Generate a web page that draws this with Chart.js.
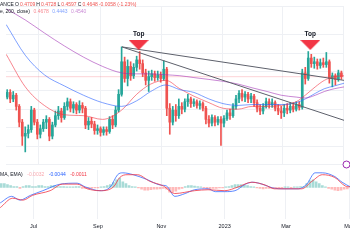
<!DOCTYPE html>
<html lang="en">
<head>
<meta charset="UTF-8">
<title>XRPUSDT daily</title>
<script src="https://cdn.jsdelivr.net/npm/chart.js@4.4.1/dist/chart.umd.min.js"></script>
<style>
    body { margin: 0; background: #ffffff; }
    #wrap { position: relative; width: 350px; height: 250px; overflow: hidden; }
    canvas { position: absolute; left: 0; }
    #priceChart { top: 0; }
    #macdChart { top: 170px; }
</style>
</head>
<body>
<div id="wrap">
    <canvas id="priceChart" width="350" height="170"></canvas>
    <canvas id="macdChart" width="350" height="80"></canvas>
</div>
<script>
// days counted from 1 Jul 2022, one candle every 3 days
const firstCandleDay = -31;
const candleStep = 3;

const opens = [
    .399, .414, .393, .405, .369, .318, .273, .282, .294, .357,
    .318, .279, .297, .318, .327, .273, .309, .339, .354, .333,
    .369, .384, .363, .375, .357, .372, .363, .309, .321, .312,
    .291, .297, .285, .294, .288, .327, .309, .357, .408, .513,
    .459, .498, .468, .495, .519, .507, .477, .453, .465, .474,
    .462, .471, .459, .489, .363, .318, .357, .339, .369, .360,
    .384, .393, .378, .384, .372, .378, .363, .327, .315, .333,
    .318, .327, .315, .330, .348, .339, .369, .393, .411, .399,
    .408, .393, .402, .381, .363, .354, .369, .384, .375, .381,
    .363, .354, .348, .363, .357, .369, .360, .375, .366, .477,
    .459, .525, .507, .513, .501, .510, .504, .513, .459, .468,
    .456, .477
];
const highs = [
    .423, .423, .417, .411, .375, .327, .303, .309, .369, .363,
    .327, .309, .327, .339, .333, .318, .354, .369, .363, .381,
    .396, .393, .384, .381, .387, .381, .369, .333, .333, .321,
    .309, .303, .303, .303, .336, .339, .369, .423, .561, .528,
    .519, .513, .507, .531, .546, .519, .489, .483, .486, .483,
    .483, .480, .516, .495, .378, .369, .375, .393, .381, .393,
    .408, .399, .393, .390, .387, .384, .369, .339, .342, .339,
    .336, .336, .339, .357, .360, .378, .405, .420, .423, .417,
    .414, .411, .408, .390, .375, .378, .396, .393, .393, .387,
    .375, .369, .375, .378, .381, .381, .384, .384, .489, .495,
    .546, .537, .528, .522, .522, .525, .543, .519, .477, .474,
    .486, .483
];
const lows = [
    .393, .381, .384, .357, .303, .243, .222, .267, .285, .309,
    .264, .267, .288, .297, .258, .264, .303, .327, .318, .327,
    .357, .351, .348, .345, .348, .348, .297, .294, .300, .279,
    .279, .273, .276, .276, .282, .297, .303, .351, .402, .447,
    .435, .453, .459, .483, .489, .465, .438, .417, .453, .450,
    .453, .447, .453, .339, .279, .309, .321, .330, .345, .351,
    .369, .366, .369, .363, .360, .354, .312, .303, .306, .306,
    .309, .243, .303, .324, .327, .333, .360, .381, .387, .384,
    .381, .381, .369, .351, .342, .345, .363, .363, .366, .354,
    .342, .330, .336, .345, .348, .351, .354, .357, .360, .441,
    .453, .495, .492, .489, .492, .495, .495, .444, .432, .438,
    .450, .456
];
const closes = [
    .414, .393, .405, .369, .318, .273, .282, .294, .357, .318,
    .279, .297, .318, .327, .273, .309, .339, .354, .333, .369,
    .384, .363, .375, .357, .372, .363, .309, .321, .312, .291,
    .297, .285, .294, .288, .327, .309, .357, .408, .513, .459,
    .498, .468, .495, .519, .507, .477, .453, .465, .474, .462,
    .471, .459, .489, .363, .318, .357, .339, .369, .360, .384,
    .393, .378, .384, .372, .378, .363, .327, .315, .333, .318,
    .327, .315, .330, .348, .339, .369, .393, .411, .399, .408,
    .393, .402, .381, .363, .354, .369, .384, .375, .381, .363,
    .354, .348, .363, .357, .369, .360, .375, .366, .477, .459,
    .525, .507, .513, .501, .510, .504, .513, .459, .468, .456,
    .477, .4648
];

// moving averages, read at a few points
const maDays    = [-32, -13, 6, 26, 45, 64, 83, 98, 112, 127, 141, 155, 170, 184, 199, 213, 228, 242, 257, 266, 276, 285, 295, 305];
const maFast    = [.537, .432, .372, .342, .339, .327, .357, .408, .441, .453, .426, .402, .381, .363, .360, .369, .369, .372, .384, .405, .432, .453, .465, .468];
const maMid     = [.633, .534, .471, .435, .405, .381, .369, .387, .417, .438, .423, .414, .393, .378, .372, .375, .375, .375, .381, .393, .411, .426, .435, .444];
const maSlow    = [.684, .648, .606, .564, .528, .498, .477, .474, .474, .471, .468, .462, .456, .450, .441, .429, .417, .405, .399, .396, .405, .417, .426, .432];

// trendlines from the September top
const trendDays = [83.3, 304.6];
const trendUpper = [.561, .453];
const trendLower = [.561, .324];

const lastPrice = 0.4648;
const topDays = [100, 271];
const topPrices = [.567, .567];

// MACD pane
const macdDays   = [-32, -21, -13, -3, 9, 26, 42, 50, 64, 74, 81, 86, 96, 109, 122, 128, 136, 146, 155, 168, 175, 184, 194, 204, 211, 220, 230, 242, 255, 263, 271, 278, 290, 297, 305];
const macdLine   = [-.033, -.019, -.027, -.017, -.007, .007, .009, .001, -.007, .001, .027, .031, .027, .017, .005, .003, -.019, -.013, -.005, -.003, -.009, -.009, -.007, .007, .011, .007, -.001, -.003, -.003, .007, .031, .031, .023, .011, .001];
const signalDays = [-32, -20, -10, -1, 16, 28, 42, 52, 64, 77, 83, 90, 100, 112, 125, 136, 155, 168, 184, 197, 210, 223, 232, 258, 268, 278, 290, 300, 305];
const signalLine = [-.043, -.023, -.027, -.017, -.007, .007, .007, -.003, -.007, .001, .021, .027, .027, .013, .003, -.013, -.007, -.005, -.007, .001, .011, .005, -.003, -.003, .013, .027, .021, .003, .001];
const histogram = [
    .008, .008, .006, .004, .002, .002, -.002, .002, .004, .004,
    .002, .002, .004, .004, .002, .002, .004, .004, .002, .002,
    .002, .001, .001, .001, .002, .002, -.002, -.002, -.003, -.002,
    -.001, -.001, .001, .002, .004, .006, .010, .016, .020, .012,
    .008, .004, .002, .001, -.001, -.004, -.006, -.006, -.005, -.004,
    -.004, -.003, -.002, -.004, -.010, -.010, -.008, -.004, -.002, .002,
    .004, .004, .003, .002, .001, -.001, -.002, -.003, -.002, -.002,
    -.001, -.001, .001, .002, .004, .006, .006, .006, .005, .004,
    .002, .001, -.001, -.002, -.003, -.002, -.002, -.001, -.001, -.001,
    -.001, .001, .001, -.001, .001, .001, .002, .002, .008, .014,
    .016, .012, .008, .004, .001, -.002, -.004, -.006, -.007, -.006,
    -.004, -.003
];

const tickDays   = [0, 62, 123, 184, 243, 304];
const tickLabels = ['Jul', 'Sep', 'Nov', '2023', 'Mar', 'May'];

const xMin = -32.2;
const xMax = 304.6;

const upColor = '#26a69a';
const downColor = '#ef5350';
const gridColor = '#eef0f4';
const textColor = '#131722';
const fastColor = 'rgba(242, 54, 69, 0.6)';
const midColor = 'rgba(41, 98, 255, 0.6)';
const slowColor = 'rgba(156, 39, 176, 0.55)';
const fontFamily = '"Liberation Sans", Arial, sans-serif';

const candleDays = closes.map((c, i) => firstCandleDay + i * candleStep);
const candleColors = closes.map((c, i) => c >= opens[i] ? upColor : downColor);

function points(days, values) {
    return days.map((d, i) => ({ x: d, y: values[i] }));
}

function timeAxis(showLabels) {
    return {
        type: 'linear',
        min: xMin,
        max: xMax,
        offset: false,
        afterBuildTicks: axis => { axis.ticks = tickDays.map(v => ({ value: v })); },
        afterFit: axis => { axis.paddingLeft = 0; axis.paddingRight = 0; },
        grid: { color: gridColor, drawTicks: false, offset: false },
        border: { display: false },
        ticks: {
            display: showLabels,
            autoSkip: false,
            maxRotation: 0,
            padding: 4,
            color: textColor,
            font: { family: fontFamily, size: 5.5 },
            callback: (v, i) => tickLabels[i]
        }
    };
}

function drawRow(ctx, row, x, y, gap) {
    row.forEach(([text, color]) => {
        ctx.fillStyle = color;
        ctx.fillText(text, x, y);
        x += ctx.measureText(text).width + gap;
    });
}

// flat red arrow used for the "Top" marks
const topArrow = document.createElement('canvas');
topArrow.width = 20;
topArrow.height = 10;
const arrowCtx = topArrow.getContext('2d');
arrowCtx.fillStyle = '#f23645';
arrowCtx.beginPath();
arrowCtx.moveTo(0, 0);
arrowCtx.lineTo(20, 0);
arrowCtx.lineTo(10, 10);
arrowCtx.closePath();
arrowCtx.fill();

const priceLegend = {
    id: 'priceLegend',
    afterDraw(chart) {
        const ctx = chart.ctx;
        ctx.save();
        ctx.textBaseline = 'middle';
        ctx.textAlign = 'left';
        ctx.font = '5px ' + fontFamily;
        drawRow(ctx, [
            ['ANCE', textColor], ['O', textColor], ['0.4709', downColor],
            ['H', textColor], ['0.4728', downColor], ['L', textColor], ['0.4597', downColor],
            ['C', textColor], ['0.4648', downColor], ['-0.0058 (-1.23%)', downColor]
        ], 0, 4.5, 1.1);
        drawRow(ctx, [
            ['e, 200, close)', textColor], ['0.4678', fastColor], ['0.4443', midColor], ['0.4540', slowColor]
        ], 0, 11.5, 3.5);

        const meta = chart.getDatasetMeta(chart.data.datasets.length - 1);
        ctx.font = 'bold 6.5px ' + fontFamily;
        ctx.textAlign = 'center';
        ctx.fillStyle = textColor;
        meta.data.forEach(pt => ctx.fillText('Top', pt.x, pt.y - 10.5));

        ctx.strokeStyle = '#9c27b0';
        ctx.lineWidth = 1;
        ctx.beginPath();
        ctx.arc(346.5, 164.5, 3.5, 0, Math.PI * 2);
        ctx.stroke();
        ctx.restore();
    }
};

const macdLegend = {
    id: 'macdLegend',
    afterDraw(chart) {
        const ctx = chart.ctx;
        ctx.save();
        ctx.textBaseline = 'middle';
        ctx.textAlign = 'left';
        ctx.font = '5px ' + fontFamily;
        drawRow(ctx, [
            ['MA, EMA)', textColor], ['-0.0032', 'rgba(242, 54, 69, 0.45)'],
            ['-0.0044', '#2962ff'], ['-0.0011', '#f23645']
        ], 0, 5, 4.5);
        ctx.restore();
    }
};

new Chart(document.getElementById('priceChart'), {
    type: 'bar',
    data: {
        datasets: [
            {
                type: 'line',
                data: points([xMin - 1, xMax + 1], [lastPrice, lastPrice]),
                borderColor: 'rgba(242, 54, 69, 0.22)',
                borderWidth: 1,
                pointRadius: 0,
                order: 7
            },
            {
                data: candleDays.map((d, i) => ({ x: d, y: [lows[i], highs[i]] })),
                backgroundColor: candleColors,
                barThickness: 1,
                grouped: false,
                borderWidth: 0,
                order: 6
            },
            {
                data: candleDays.map((d, i) => ({ x: d, y: [opens[i], closes[i]] })),
                backgroundColor: candleColors,
                barThickness: 2,
                grouped: false,
                borderWidth: 0,
                order: 5
            },
            {
                type: 'line',
                data: points(maDays, maSlow),
                borderColor: slowColor,
                borderWidth: 1,
                pointRadius: 0,
                cubicInterpolationMode: 'monotone',
                order: 4
            },
            {
                type: 'line',
                data: points(maDays, maMid),
                borderColor: midColor,
                borderWidth: 1,
                pointRadius: 0,
                cubicInterpolationMode: 'monotone',
                order: 4
            },
            {
                type: 'line',
                data: points(maDays, maFast),
                borderColor: fastColor,
                borderWidth: 1,
                pointRadius: 0,
                cubicInterpolationMode: 'monotone',
                order: 4
            },
            {
                type: 'line',
                data: points(trendDays, trendUpper),
                borderColor: '#5d606b',
                borderWidth: 1,
                pointRadius: 0,
                order: 3
            },
            {
                type: 'line',
                data: points(trendDays, trendLower),
                borderColor: '#5d606b',
                borderWidth: 1,
                pointRadius: 0,
                order: 3
            },
            {
                type: 'line',
                data: points(topDays, topPrices),
                showLine: false,
                pointStyle: topArrow,
                pointRadius: 5,
                order: 1
            }
        ]
    },
    options: {
        responsive: false,
        animation: false,
        devicePixelRatio: 1,
        events: [],
        layout: { padding: 0 },
        plugins: { legend: { display: false }, tooltip: { enabled: false } },
        scales: {
            x: timeAxis(false),
            y: {
                min: 0.183,
                max: 0.693,
                grid: { color: gridColor, drawTicks: false },
                border: { display: false },
                ticks: { display: false, stepSize: 0.06 }
            }
        }
    },
    plugins: [priceLegend]
});

new Chart(document.getElementById('macdChart'), {
    type: 'bar',
    data: {
        datasets: [
            {
                data: points(candleDays, histogram),
                backgroundColor: histogram.map(v => v >= 0 ? 'rgba(38, 166, 154, 0.4)' : 'rgba(255, 82, 82, 0.4)'),
                barThickness: 2,
                borderWidth: 0,
                order: 3
            },
            {
                type: 'line',
                data: points(macdDays, macdLine),
                borderColor: 'rgba(41, 98, 255, 0.75)',
                borderWidth: 1,
                pointRadius: 0,
                cubicInterpolationMode: 'monotone',
                order: 2
            },
            {
                type: 'line',
                data: points(signalDays, signalLine),
                borderColor: 'rgba(242, 54, 69, 0.8)',
                borderWidth: 1,
                pointRadius: 0,
                cubicInterpolationMode: 'monotone',
                order: 1
            }
        ]
    },
    options: {
        responsive: false,
        animation: false,
        devicePixelRatio: 1,
        events: [],
        layout: { padding: { bottom: 16 } },
        plugins: { legend: { display: false }, tooltip: { enabled: false } },
        scales: {
            x: timeAxis(true),
            y: { display: false, min: -0.068, max: 0.037 }
        }
    },
    plugins: [macdLegend]
});
</script>
</body>
</html>
